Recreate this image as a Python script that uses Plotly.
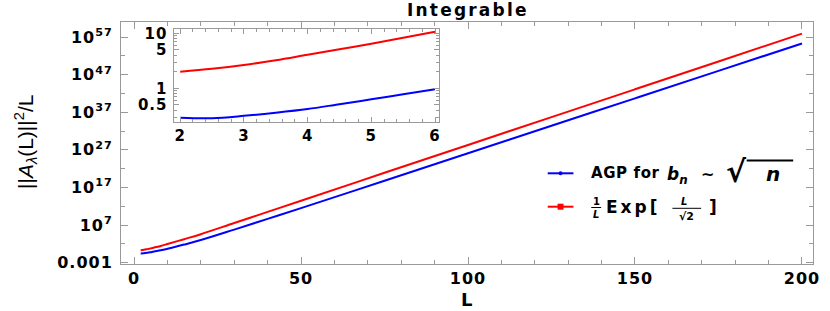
import plotly.graph_objects as go

# ---------------- data ----------------
L_main = [2, 3, 4, 5, 6, 8, 10, 15, 20, 30, 40, 50, 75, 100, 125, 150, 175, 200]
red_log10 = [0.30, 0.42, 0.61, 0.81, 1.03, 1.45, 1.95, 3.25, 4.58, 7.54, 10.5,
             13.46, 20.9, 28.3, 35.7, 43.1, 50.5, 57.9]
blue_log10 = [-0.53, -0.50, -0.37, -0.20, -0.02, 0.28, 0.68, 1.81, 3.02, 5.8, 8.64,
              11.5, 18.8, 26.1, 33.4, 40.7, 48.0, 55.3]

L_inset = [2, 2.5, 3, 3.5, 4, 4.5, 5, 5.5, 6]
red_inset = [2.0, 2.26, 2.65, 3.24, 4.08, 5.13, 6.46, 8.3, 10.7]
blue_inset = [0.293, 0.287, 0.316, 0.36, 0.42, 0.515, 0.63, 0.78, 0.96]

x_ticks = [0, 50, 100, 150, 200]
y_tick_exp = [-3, 7, 17, 27, 37, 47, 57]
inset_x_ticks = [2, 3, 4, 5, 6]
inset_y_ticks = [0.5, 1, 5, 10]

RED = "#FF0000"
BLUE = "#0000FF"
FRAME = "#9a9a9a"
BOLD = "DejaVu Sans"


def wide(s, sp=1.0):
    return f'<span style="letter-spacing:{sp}px">{s}</span>'


y_tick_text = [wide("0.001")] + [wide(f"10<sup>{e}</sup>") for e in y_tick_exp[1:]]

red_main = [10 ** v for v in red_log10]
blue_main = [10 ** v for v in blue_log10]

fig = go.Figure()
fig.add_trace(go.Scatter(x=L_main, y=blue_main, mode="lines", line=dict(color=BLUE, width=2, shape="spline", smoothing=1.0),
                         xaxis="x", yaxis="y", showlegend=False))
fig.add_trace(go.Scatter(x=L_main, y=red_main, mode="lines", line=dict(color=RED, width=2, shape="spline", smoothing=1.0),
                         xaxis="x", yaxis="y", showlegend=False))
fig.add_trace(go.Scatter(x=L_inset, y=blue_inset, mode="lines", line=dict(color=BLUE, width=2, shape="spline"),
                         xaxis="x2", yaxis="y2", showlegend=False))
fig.add_trace(go.Scatter(x=L_inset, y=red_inset, mode="lines", line=dict(color=RED, width=2, shape="spline"),
                         xaxis="x2", yaxis="y2", showlegend=False))

W, H = 830, 311
# plot area in page pixels: x 121..820, y 22..264
ML, MT = 121, 22
MR = W - 820
MB = H - 264
PW, PH = W - ML - MR, H - MT - MB


def px(x):
    return (x - ML) / PW


def py(y):
    return (H - MB - y) / PH


tickfont = dict(family=BOLD, size=16, color="black", weight="bold")
inset_font = dict(family=BOLD, size=15, color="black", weight="bold")
common = dict(showline=True, linecolor=FRAME, linewidth=1, mirror="ticks", ticks="inside",
              tickcolor=FRAME, showgrid=False, zeroline=False)

minor_y = [10.0 ** e for e in range(2, 60, 10)]
inset_minor_y = [0.3, 0.4, 0.6, 0.7, 0.8, 0.9, 2, 3, 4, 6, 7, 8, 9]
inset_minor_x = [round(2 + 0.2 * i, 1) for i in range(0, 21) if i % 5 != 0]

fig.update_layout(
    width=W, height=H,
    margin=dict(l=ML, r=MR, t=MT, b=MB),
    paper_bgcolor="white", plot_bgcolor="white",
    xaxis=dict(range=[-3.9, 203.3], tickvals=x_ticks, ticktext=[wide(str(v)) for v in x_ticks], ticklen=7,
               tickfont=tickfont,
               minor=dict(tickvals=[v for v in range(10, 201, 10) if v % 50], ticklen=4, tickcolor=FRAME, ticks="inside"),
               **common),
    yaxis=dict(type="log", range=[-3.35, 61.0], tickvals=[10.0 ** e for e in y_tick_exp], ticktext=y_tick_text,
               ticklen=7, tickfont=tickfont, ticklabelstandoff=4,
               minor=dict(tickvals=minor_y, ticklen=4, tickcolor=FRAME, ticks="inside"), **common),
    xaxis2=dict(domain=[px(175), px(442.7)], anchor="y2", range=[1.91, 6.07], tickvals=inset_x_ticks,
                ticktext=[wide(str(v)) for v in inset_x_ticks], ticklen=5, tickfont=inset_font,
                minor=dict(tickvals=inset_minor_x, ticklen=3, tickcolor=FRAME, ticks="inside"), **common),
    yaxis2=dict(domain=[py(121.7), py(29.3)], anchor="x2", type="log", range=[-0.607, 1.073],
                tickvals=inset_y_ticks, ticktext=[wide(t) for t in ["0.5", "1", "5", "10"]], ticklen=5,
                tickfont=inset_font, ticklabelstandoff=3,
                minor=dict(tickvals=inset_minor_y, ticklen=3, tickcolor=FRAME, ticks="inside"), **common),
)


def note(text, x, y, size, xanchor="center", family=BOLD, angle=0):
    return dict(text=text, x=px(x), y=py(y), xref="paper", yref="paper", showarrow=False, textangle=angle,
                font=dict(family=family, size=size, color="black"), xanchor=xanchor, yanchor="middle")


ann = [
    note("<b>" + wide("Integrable", 2.2) + "</b>", 472, 10, 17),
    note("<b>" + wide("L") + "</b>", 470.5, 299, 18),
    note("||<i>A</i><sub><i>λ</i></sub>(L)||<sup>2</sup>/L", 24, 142, 21, family="Liberation Sans", angle=-90),
    # legend entry 1
    note("<b>" + wide("AGP for", 0.6) + "</b>", 594, 173, 15, "left"),
    note("<b><i>b</i><sub><i>n</i></sub></b>", 670, 175, 17, "left"),
    note("<b>~</b>", 705, 174, 16, "left"),
    note("<b>√</b>", 730, 171, 30, "left"),
    note("<b><i>n</i></b>", 771, 174, 20, "left"),
    # legend entry 2
    note("<b>1</b>", 601, 201, 10),
    note("<b><i>L</i></b>", 601, 214, 10),
    note("<b>" + wide("Exp[", 3) + "</b>", 609, 207, 17, "left"),
    note("<b><i>L</i></b>", 690, 201.5, 10),
    note("<b>√2</b>", 692, 216.5, 11),
    note("<b>]</b>", 713, 207, 17, "left"),
]
fig.update_layout(annotations=ann)


def hline(x0, x1, y, color, width):
    return dict(type="line", xref="paper", yref="paper", x0=px(x0), x1=px(x1), y0=py(y), y1=py(y),
                line=dict(color=color, width=width))


shapes = [
    hline(552, 578, 173.3, BLUE, 2),
    dict(type="circle", xref="paper", yref="paper", x0=px(563), x1=px(567), y0=py(175.3), y1=py(171.3),
         line=dict(color=BLUE, width=0), fillcolor=BLUE),
    hline(552, 578, 206.7, RED, 2),
    dict(type="rect", xref="paper", yref="paper", x0=px(562), x1=px(568), y0=py(209.7), y1=py(203.7),
         line=dict(color=RED, width=0), fillcolor=RED),
    hline(596, 606, 207.5, "black", 1),
    hline(678, 707, 208.3, "black", 1),
    hline(753, 800, 160.5, "black", 2),
]
fig.update_layout(shapes=shapes)

fig.write_html("out.html", config={"displayModeBar": False},
               post_script="document.body.style.margin='0px';")
